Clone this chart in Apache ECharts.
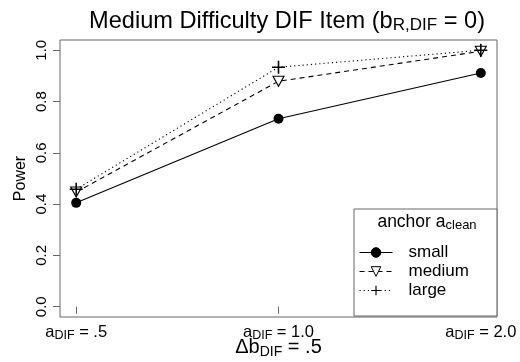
<!DOCTYPE html>
<html>
<head>
<meta charset="utf-8">
<script src="https://cdn.jsdelivr.net/npm/echarts@6/dist/echarts.min.js"></script>
<style>
  html, body { margin: 0; padding: 0; background: #fff; }
  #chart { width: 520px; height: 362px; }
</style>
</head>
<body>
<div id="chart"></div>
<script>
// a_DIF levels shown on the x axis, placed at positions 1, 2, 3
const aDifLabels = ['.5', '1.0', '2.0'];
const xPositions = [1, 2, 3];

// Power by anchor a_clean size
const powerSmall  = [0.405, 0.733, 0.911];
const powerMedium = [0.447, 0.879, 0.996];
const powerLarge  = [0.458, 0.934, 1.000];

const yTicks = [0, 0.2, 0.4, 0.6, 0.8, 1.0];
const seriesNames = ['small', 'medium', 'large'];

const FONT = '"Liberation Sans", Arial, Helvetica, sans-serif';
const INK = '#000';
const FRAME = '#666';

// plus glyph drawn as a thin filled cross
const PLUS = 'path://M4.4,0H5.6V4.4H10V5.6H5.6V10H4.4V5.6H0V4.4H4.4Z';

function pts(values) {
  return values.map((v, i) => [xPositions[i], v]);
}

function richText(main, sub, mainLH, subLH) {
  return {
    m: { fontSize: main, lineHeight: mainLH, verticalAlign: 'top', color: INK, fontFamily: FONT, fontWeight: 'normal' },
    s: { fontSize: sub, lineHeight: subLH, verticalAlign: 'bottom', color: INK, fontFamily: FONT, fontWeight: 'normal' }
  };
}

const chart = echarts.init(document.getElementById('chart'), null, { renderer: 'canvas' });

const option = {
  animation: false,
  backgroundColor: '#fff',
  textStyle: { fontFamily: FONT, color: INK },
  title: [
    {
      text: '{m|Medium Difficulty DIF Item (b}{s|R,DIF}{m| = 0)}',
      left: 282,
      top: 4,
      textAlign: 'center',
      textStyle: { fontFamily: FONT, fontWeight: 'normal', rich: richText(23.6, 17, 25, 12) }
    },
    {
      text: '{m|anchor a}{s|clean}',
      left: 422,
      top: 208,
      textAlign: 'center',
      textStyle: { fontFamily: FONT, fontWeight: 'normal', rich: richText(17.5, 13, 19, 9) }
    }
  ],
  legend: {
    orient: 'vertical',
    left: 354,
    top: 209,
    data: seriesNames,
    itemWidth: 33,
    itemHeight: 12,
    itemGap: 0,
    padding: [34, 28, 16, 5],
    borderColor: FRAME,
    borderWidth: 1,
    backgroundColor: '#fff',
    lineStyle: { width: 1 },
    itemStyle: { borderWidth: 1 },
    textStyle: {
      fontFamily: FONT,
      fontSize: 17,
      lineHeight: 19,
      color: INK,
      padding: [0, 0, 0, 11]
    }
  },
  grid: {
    left: 60,
    right: 23,
    top: 40,
    bottom: 45,
    outerBoundsMode: 'none',
    show: true,
    borderColor: FRAME,
    borderWidth: 1,
    backgroundColor: 'transparent'
  },
  xAxis: {
    type: 'value',
    min: 0.92,
    max: 3.08,
    name: '{m|Δb}{s|DIF}{m| = .5}',
    nameLocation: 'middle',
    nameGap: 20,
    nameMoveOverlap: false,
    nameTextStyle: { fontFamily: FONT, rich: richText(20, 14, 22, 10) },
    axisLine: { show: false },
    splitLine: { show: false },
    axisTick: {
      show: true,
      length: 7,
      customValues: xPositions,
      lineStyle: { color: FRAME, width: 1 }
    },
    axisLabel: {
      customValues: xPositions,
      margin: 7,
      formatter: function (v) {
        const i = xPositions.indexOf(v);
        return '{m|a}{s|DIF}{m| = ' + aDifLabels[i] + '}';
      },
      rich: richText(16.5, 12.5, 18, 9)
    }
  },
  yAxis: {
    type: 'value',
    min: -0.04,
    max: 1.04,
    name: 'Power',
    nameLocation: 'middle',
    nameGap: 31,
    nameMoveOverlap: false,
    nameTextStyle: { fontFamily: FONT, fontSize: 16, color: INK },
    axisLine: { show: false },
    splitLine: { show: false },
    axisTick: {
      show: true,
      length: 7,
      customValues: yTicks,
      lineStyle: { color: FRAME, width: 1 }
    },
    axisLabel: {
      customValues: yTicks,
      rotate: 90,
      margin: 11,
      fontFamily: FONT,
      fontSize: 15,
      color: INK,
      formatter: function (v) { return v.toFixed(1); }
    }
  },
  series: [
    {
      name: 'small',
      type: 'line',
      data: pts(powerSmall),
      symbol: 'circle',
      symbolSize: 10,
      lineStyle: { color: INK, width: 1.1, type: 'solid' },
      itemStyle: { color: INK, borderColor: INK, borderWidth: 0 },
      z: 3
    },
    {
      name: 'medium',
      type: 'line',
      data: pts(powerMedium),
      symbol: 'triangle',
      symbolRotate: 180,
      symbolSize: [11, 10],
      lineStyle: { color: INK, width: 1.1, type: [5, 4] },
      itemStyle: { color: '#fff', borderColor: INK, borderWidth: 1.1 },
      z: 3
    },
    {
      name: 'large',
      type: 'line',
      data: pts(powerLarge),
      symbol: PLUS,
      symbolSize: 13,
      lineStyle: { color: INK, width: 1.1, type: [1.2, 3] },
      itemStyle: { color: INK, borderWidth: 0 },
      z: 3
    }
  ]
};

chart.setOption(option);
</script>
</body>
</html>
